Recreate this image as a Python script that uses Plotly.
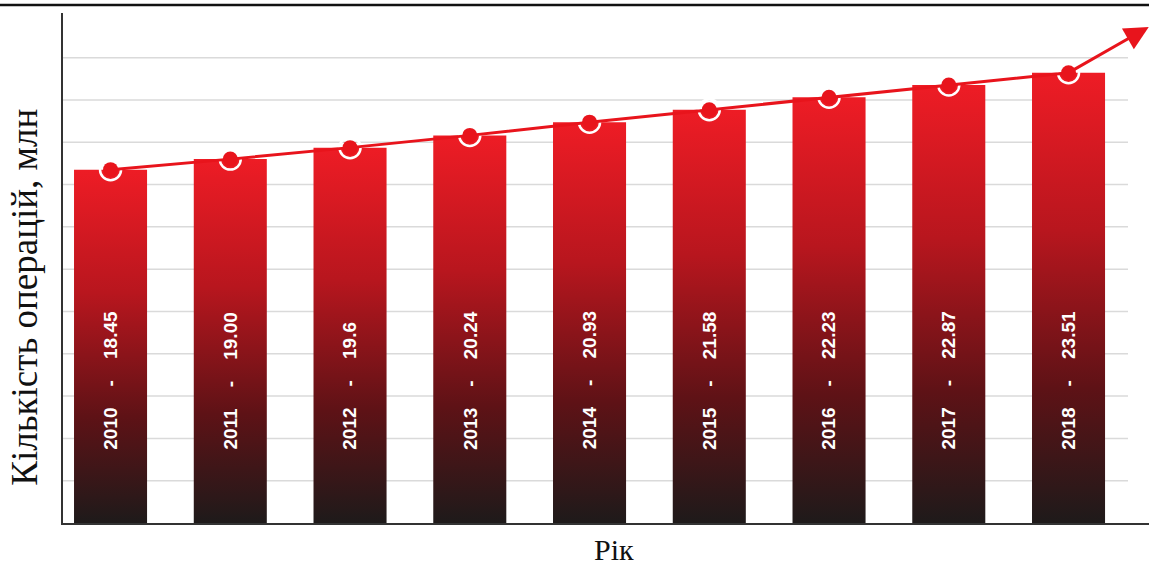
import plotly.graph_objects as go

# Data: number of operations per year, millions
years = ["2010", "2011", "2012", "2013", "2014", "2015", "2016", "2017", "2018"]
operations = [18.45, 19.00, 19.6, 20.24, 20.93, 21.58, 22.23, 22.87, 23.51]
value_labels = ["18.45", "19.00", "19.6", "20.24", "20.93", "21.58", "22.23", "22.87", "23.51"]

# Styling / layout constants
BAR_WIDTH = 0.61
Y_MAX = 26.63
X_MIN, X_MAX = -0.397, 8.672
GRID_STEP = 2.209
GRID_COUNT = 11
LABEL_BASE = 3.72
ARROW_TIP = (8.67, 25.9)
RED = "#e8141c"
GRADIENT = [[0.0, "#1e1a1a"], [0.3, "#5e1216"], [0.65, "#b8161e"], [1.0, "#ee1c25"]]

fig = go.Figure()

# Bars drawn as filled polygons so each can carry a vertical gradient
for i, v in enumerate(operations):
    x0, x1 = i - BAR_WIDTH / 2, i + BAR_WIDTH / 2
    fig.add_trace(go.Scatter(
        x=[x0, x1, x1, x0, x0],
        y=[0, 0, v, v, 0],
        mode="lines",
        fill="toself",
        line=dict(width=0, color="rgba(0,0,0,0)"),
        fillgradient=dict(type="vertical", colorscale=GRADIENT, start=0, stop=v),
        hoverinfo="skip",
        showlegend=False,
    ))

xs = list(range(len(years)))

# White halo rings around the points (visible only over the bars)
fig.add_trace(go.Scatter(
    x=xs, y=operations, mode="markers",
    marker=dict(symbol="circle-open", size=21, color="white", line=dict(width=2.5)),
    showlegend=False, hoverinfo="skip",
))

# Trend line through the bar tops
fig.add_trace(go.Scatter(
    x=xs, y=operations, mode="lines",
    line=dict(color=RED, width=3),
    showlegend=False, hoverinfo="skip",
))
fig.add_trace(go.Scatter(
    x=xs, y=operations, mode="markers",
    marker=dict(size=15, color=RED, line=dict(width=0)),
    showlegend=False, hoverinfo="skip",
))

annotations = []
# Vertical labels inside the bars
nb = "\u00a0"
for i, (yr, lab) in enumerate(zip(years, value_labels)):
    annotations.append(dict(
        x=i, y=LABEL_BASE, xref="x", yref="y",
        text=f"<b>{yr}{nb*4}-{nb*4}{lab}</b>",
        textangle=-90, showarrow=False,
        xanchor="center", yanchor="bottom",
        font=dict(family="Liberation Sans, Arial", size=19, color="white"),
    ))

# Arrow continuing the trend
annotations.append(dict(
    x=ARROW_TIP[0], y=ARROW_TIP[1], xref="x", yref="y",
    ax=len(years) - 1, ay=operations[-1], axref="x", ayref="y",
    showarrow=True, arrowhead=2, arrowsize=1.6, arrowwidth=3, arrowcolor=RED,
    text="",
))

# Axis titles
annotations.append(dict(
    x=0, y=(523.5 - 298) / 510.5, xref="paper", yref="paper",
    xshift=-38, text="Кількість операцій, млн", textangle=-90, showarrow=False,
    xanchor="center", yanchor="middle",
    font=dict(family="Liberation Serif, Times New Roman", size=37, color="#111"),
))
annotations.append(dict(
    x=(614 - 63) / 1086, y=0, xref="paper", yref="paper",
    yshift=-26, text="Рік", showarrow=False,
    xanchor="center", yanchor="middle",
    font=dict(family="Liberation Serif, Times New Roman", size=30, color="#111"),
))

shapes = []
# Horizontal gridlines
for k in range(1, GRID_COUNT + 1):
    shapes.append(dict(
        type="line", xref="paper", yref="y",
        x0=0, x1=(1128 - 63) / 1086, y0=k * GRID_STEP, y1=k * GRID_STEP,
        line=dict(color="#dadada", width=1.5), layer="below",
    ))
# Frame line across the top
shapes.append(dict(
    type="line", xref="paper", yref="paper",
    x0=-63 / 1086, x1=1, y0=(523.5 - 5) / 510.5, y1=(523.5 - 5) / 510.5,
    line=dict(color="#111", width=2.5),
))

fig.update_layout(
    width=1149, height=565,
    margin=dict(l=63, r=0, t=13, b=41.5),
    paper_bgcolor="white", plot_bgcolor="white",
    xaxis=dict(range=[X_MIN, X_MAX], showgrid=False, zeroline=False,
               showticklabels=False, ticks="", showline=True,
               linecolor="#333", linewidth=2),
    yaxis=dict(range=[0, Y_MAX], showgrid=False, zeroline=False,
               showticklabels=False, ticks="", showline=True,
               linecolor="#333", linewidth=2),
    annotations=annotations,
    shapes=shapes,
)

fig.write_html("out.html")
